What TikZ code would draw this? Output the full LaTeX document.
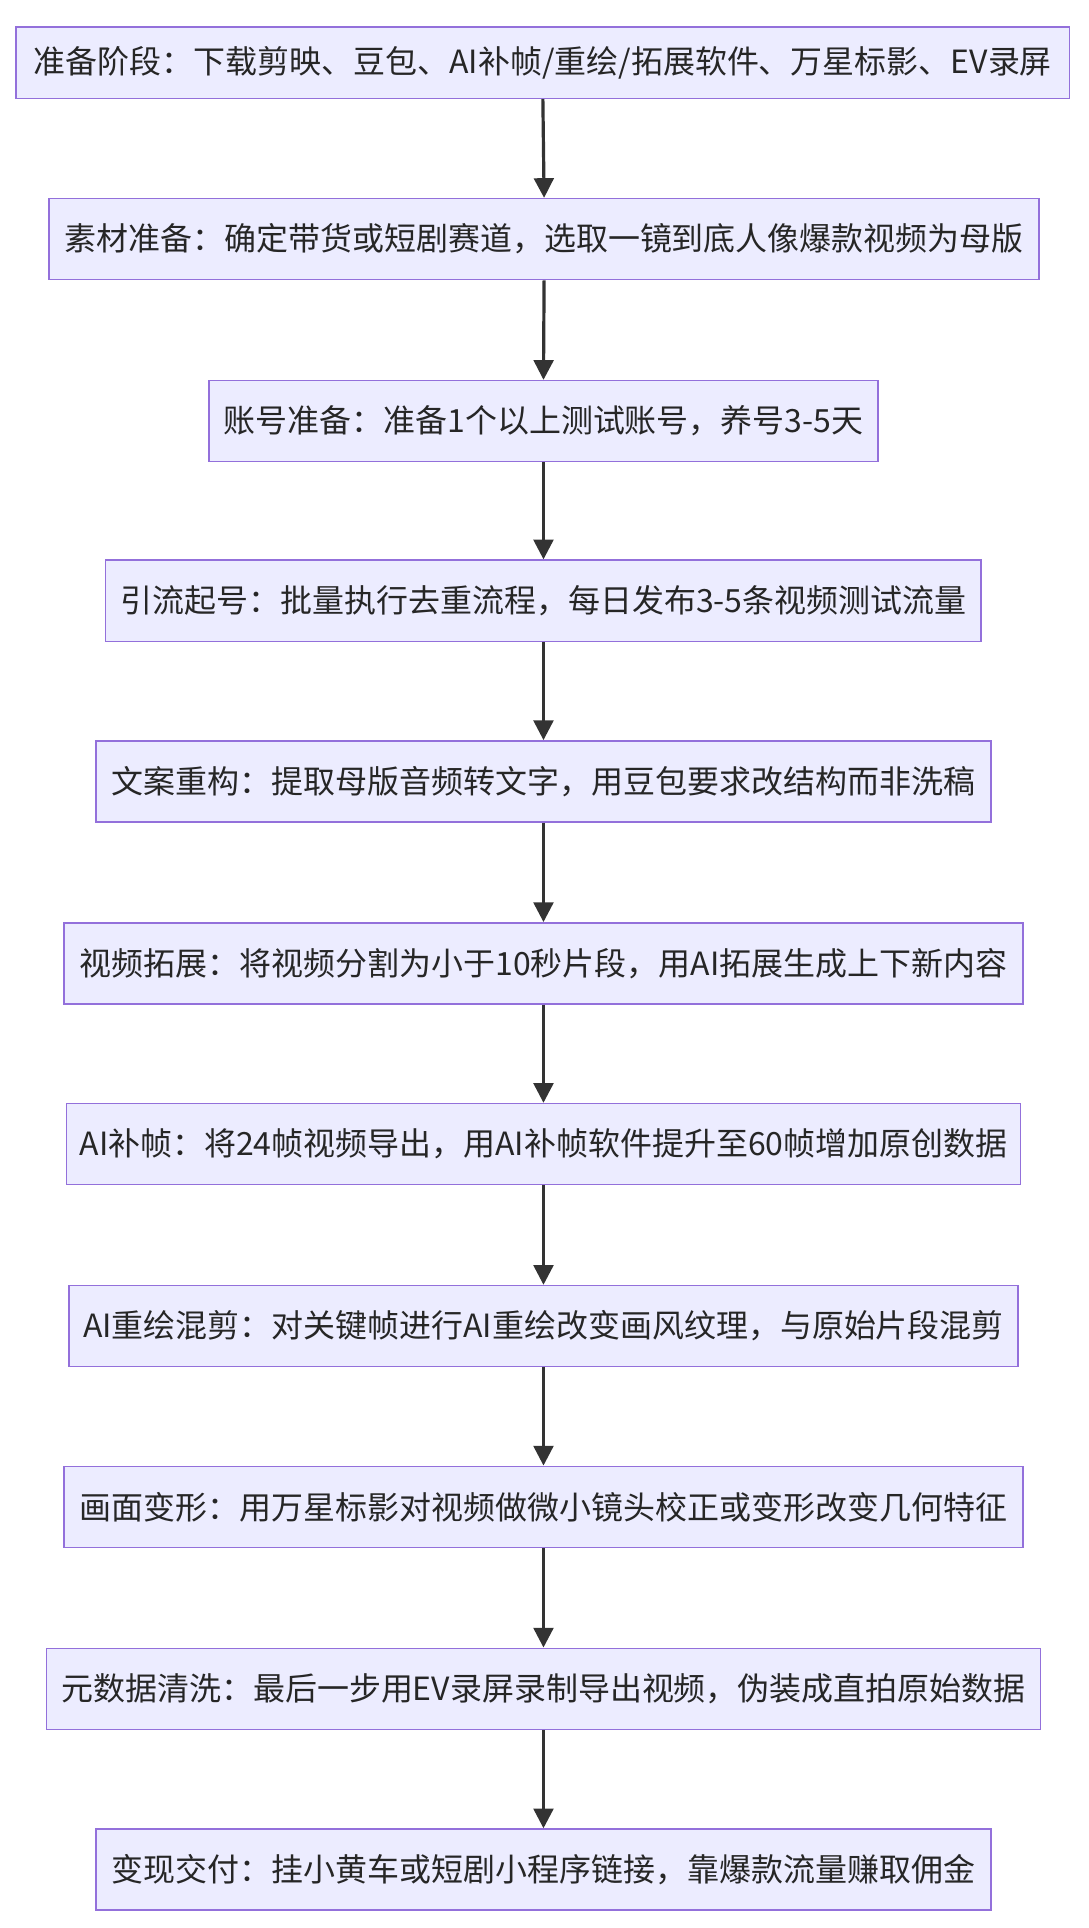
\documentclass[tikz,border=0pt]{standalone}
\usepackage{fontspec}
\setmainfont{Noto Sans CJK SC}
\usetikzlibrary{arrows.meta}
\definecolor{boxfill}{HTML}{ECECFF}
\definecolor{boxline}{HTML}{9370DB}
\definecolor{arr}{HTML}{333333}
\tikzset{
  stepbox/.style={draw=boxline, fill=boxfill, line width=1.2pt, minimum height=66pt, inner sep=0pt, font=\fontsize{26}{30}\selectfont, text=black!85},
  flow/.style={draw=arr, line width=2.6pt, -{Triangle[length=16pt,width=16pt]}}
}
\begin{document}
\begin{tikzpicture}[x=1pt,y=1pt]
\useasboundingbox (0,0) rectangle (885,-1568);
\node[stepbox, minimum width=857pt, minimum height=58pt] (n1) at (441.5,-51) {准备阶段：下载剪映、豆包、AI补帧/重绘/拓展软件、万星标影、EV录屏};
\node[stepbox, minimum width=805pt] (n2) at (442.5,-194.5) {素材准备：确定带货或短剧赛道，选取一镜到底人像爆款视频为母版};
\node[stepbox, minimum width=544pt] (n3) at (442,-342.5) {账号准备：准备1个以上测试账号，养号3-5天};
\node[stepbox, minimum width=712pt] (n4) at (442,-488.5) {引流起号：批量执行去重流程，每日发布3-5条视频测试流量};
\node[stepbox, minimum width=728pt] (n5) at (442,-635.5) {文案重构：提取母版音频转文字，用豆包要求改结构而非洗稿};
\node[stepbox, minimum width=780pt] (n6) at (442,-783.5) {视频拓展：将视频分割为小于10秒片段，用AI拓展生成上下新内容};
\node[stepbox, minimum width=776pt] (n7) at (442,-930.5) {AI补帧：将24帧视频导出，用AI补帧软件提升至60帧增加原创数据};
\node[stepbox, minimum width=772pt] (n8) at (442,-1078.5) {AI重绘混剪：对关键帧进行AI重绘改变画风纹理，与原始片段混剪};
\node[stepbox, minimum width=780pt] (n9) at (442,-1225.5) {画面变形：用万星标影对视频做微小镜头校正或变形改变几何特征};
\node[stepbox, minimum width=808pt] (n10) at (442,-1373.5) {元数据清洗：最后一步用EV录屏录制导出视频，伪装成直拍原始数据};
\node[stepbox, minimum width=728pt] (n11) at (442,-1520.5) {变现交付：挂小黄车或短剧小程序链接，靠爆款流量赚取佣金};
\foreach \a/\b in {n1/n2,n2/n3,n3/n4,n4/n5,n5/n6,n6/n7,n7/n8,n8/n9,n9/n10,n10/n11}
  \draw[flow] (\a.south) -- (\b.north);
\end{tikzpicture}
\end{document}
